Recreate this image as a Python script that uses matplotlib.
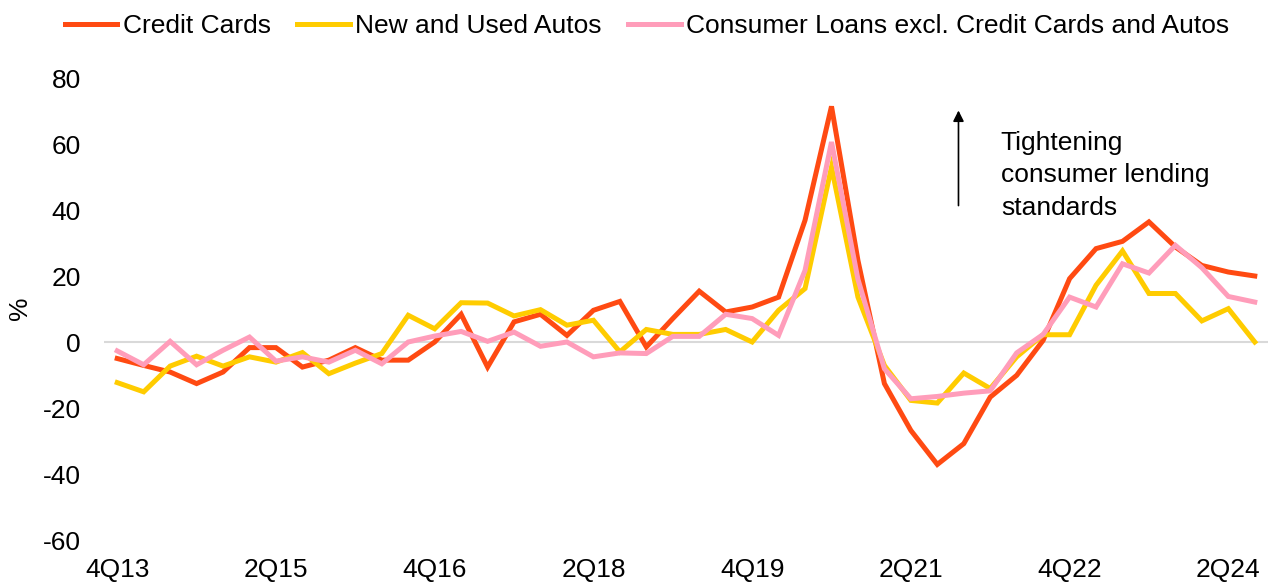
import matplotlib
matplotlib.use("Agg")
import matplotlib.pyplot as plt

plt.rcParams['font.family'] = ['Liberation Sans', 'DejaVu Sans']

# Quarters 4Q13 .. 3Q24
years = list(range(13, 25))
quarters = []
for y in years:
    for q in range(1, 5):
        if (y == 13 and q < 4) or (y == 24 and q > 3):
            continue
        quarters.append(f"{q}Q{y}")

credit_cards = [-5.0, -7.1, -9.1, -12.6, -9.1, -1.7, -1.7, -7.6, -5.5, -1.7, -5.5, -5.5,
                0.0, 8.4, -7.6, 6.1, 8.4, 2.0, 9.6, 12.3, -1.5, 7.1, 15.4, 9.1, 10.6, 13.6,
                36.9, 71.4, 24.7, -12.6, -26.8, -37.1, -30.8, -16.7, -10.1, 0.5, 19.2, 28.3,
                30.5, 36.4, 28.8, 23.2, 21.2, 20.0]
autos = [-12.3, -15.1, -7.3, -4.3, -7.3, -4.5, -6.1, -3.2, -9.6, -6.4, -3.5, 8.1,
         4.0, 11.9, 11.8, 7.9, 9.8, 5.1, 6.6, -3.0, 3.8, 2.3, 2.3, 3.8, 0.0, 9.6,
         16.2, 53.0, 13.6, -7.1, -17.7, -18.5, -9.4, -14.1, -4.5, 2.2, 2.2, 17.2,
         27.6, 14.7, 14.7, 6.4, 10.1, 0.0]
consumer = [-2.7, -6.9, 0.2, -6.9, -2.5, 1.5, -5.8, -4.5, -6.1, -2.5, -6.6, 0.0,
            1.8, 3.2, 0.2, 3.0, -1.3, 0.0, -4.5, -3.3, -3.5, 1.7, 1.7, 8.4, 7.1, 2.0,
            21.7, 60.6, 19.0, -8.1, -17.2, -16.5, -15.5, -14.8, -3.3, 2.3, 13.6, 10.6,
            23.7, 20.9, 29.3, 22.5, 13.8, 12.1]

series_names = ["Credit Cards", "New and Used Autos",
                "Consumer Loans excl. Credit Cards and Autos"]
colors = ["#FF4A12", "#FFCC00", "#FF9DBA"]
yticks = [-60, -40, -20, 0, 20, 40, 60, 80]

FS = 19

fig = plt.figure(figsize=(12.7, 5.83), dpi=100)
ax = fig.add_axes([104/1270, 43/583, (1268-104)/1270, (540-78)/583])

x = list(range(len(quarters)))
ax.axhline(0, color="#D9D9D9", lw=1.5, zorder=1)
for vals, name, c in zip([credit_cards, autos, consumer], series_names, colors):
    ax.plot(x, vals, color=c, lw=3.6, label=name, zorder=3, solid_joinstyle='miter')

ax.set_xlim(-0.5, len(quarters) - 0.5)
ax.set_ylim(-60, 80)
ax.set_yticks(yticks)
ax.set_yticklabels([str(v) for v in yticks], fontsize=FS)
tick_idx = list(range(0, len(quarters), 6))
ax.set_xticks(tick_idx)
ax.set_xticklabels([quarters[i] for i in tick_idx], fontsize=FS)
ax.tick_params(axis='y', length=0, pad=16.5)
ax.tick_params(axis='x', length=0, pad=13)
for s in ax.spines.values():
    s.set_visible(False)

fig.text(20/1270, 1 - 308/583, "%", rotation=90, fontsize=FS, ha='center', va='center')

ax.annotate("", xy=(31.8, 71), xytext=(31.8, 40.5),
            arrowprops=dict(arrowstyle="-|>", color="black", lw=1.2,
                            mutation_scale=16))
ax.text(33.4, 50.5, "Tightening\nconsumer lending\nstandards", fontsize=FS,
        ha='left', va='center', linespacing=1.45)

leg = fig.legend(loc='center', bbox_to_anchor=(647/1270, 1 - 26/583), ncol=3,
                 frameon=False, fontsize=FS, handlelength=2.0, handletextpad=0.2,
                 columnspacing=1.0)

fig.savefig("out.png", dpi=100)
